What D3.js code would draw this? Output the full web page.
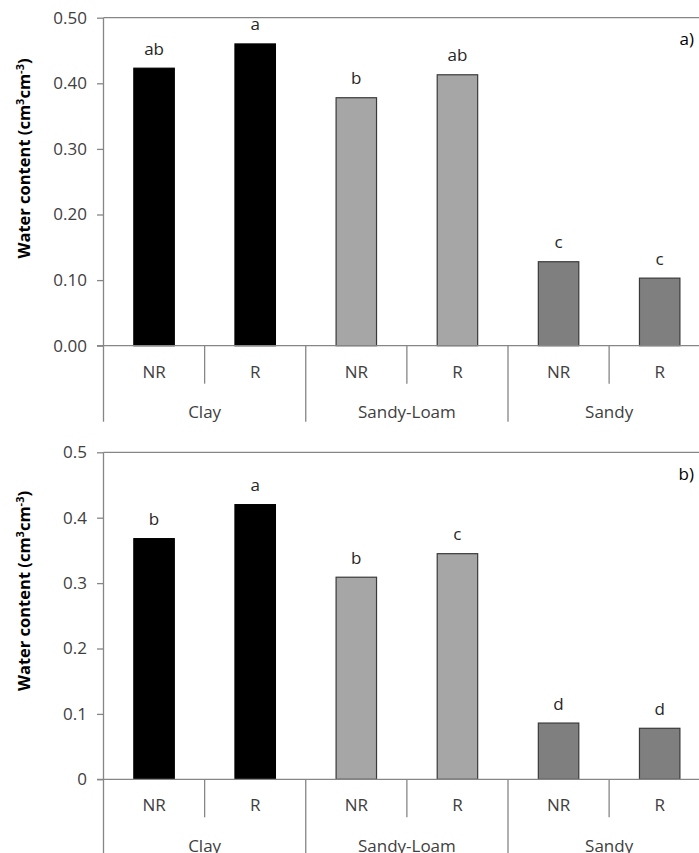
<!DOCTYPE html>
<html>
<head>
<meta charset="utf-8">
<script src="https://cdn.jsdelivr.net/npm/d3@7"></script>
<style>
  html, body { margin: 0; padding: 0; background: #fff; }
  svg { display: block; }
  text { font-family: "Open Sans", "DejaVu Sans", sans-serif; }
</style>
</head>
<body>
<svg id="chart" width="699" height="853"></svg>
<script>
// Soil textures and treatments (NR / R) along the x axis
const soils = ["Clay", "Sandy-Loam", "Sandy"];
const treatments = ["NR", "R"];
const soilColors = ["#000000", "#a6a6a6", "#7f7f7f"];

// Panel a) water content, cm3 cm-3
const valuesA = [0.423, 0.460, 0.378, 0.413, 0.128, 0.103];
const lettersA = ["ab", "a", "b", "ab", "c", "c"];
const ticksA = [0, 0.1, 0.2, 0.3, 0.4, 0.5];
const tickLabelsA = ["0.00", "0.10", "0.20", "0.30", "0.40", "0.50"];

// Panel b) water content, cm3 cm-3
const valuesB = [0.368, 0.420, 0.309, 0.345, 0.086, 0.078];
const lettersB = ["b", "a", "b", "c", "d", "d"];
const ticksB = [0, 0.1, 0.2, 0.3, 0.4, 0.5];
const tickLabelsB = ["0", "0.1", "0.2", "0.3", "0.4", "0.5"];

const svg = d3.select("#chart");
svg.append("rect").attr("width", 699).attr("height", 853).attr("fill", "#fff");

const left = 103.5, right = 710.25;
const keys = [];
soils.forEach((s, i) => treatments.forEach(t => keys.push({ soil: s, soilIndex: i, trt: t, key: s + "|" + t })));

const x = d3.scaleBand()
  .domain(keys.map(k => k.key))
  .range([left, right])
  .paddingInner(0.6)
  .paddingOuter(0.3);

const axisColor = "#868686";
const textColor = "#404040";

function panel(cfg) {
  const g = svg.append("g");
  const y = d3.scaleLinear().domain([0, 0.5]).range([cfg.y0, cfg.yTop]);

  // plot area frame (top and left edges; right edge lies beyond the canvas)
  g.append("line")
    .attr("x1", left).attr("x2", right)
    .attr("y1", y(0.5)).attr("y2", y(0.5))
    .attr("stroke", axisColor).attr("stroke-width", 1.3);

  // y axis with outer ticks
  const yAxis = d3.axisLeft(y)
    .tickValues(cfg.ticks)
    .tickFormat((d, i) => cfg.tickLabels[i])
    .tickSize(6.5)
    .tickPadding(10);
  const ya = g.append("g").attr("transform", `translate(${left},0)`).call(yAxis);
  ya.select(".domain").remove();
  ya.selectAll(".tick line").attr("stroke", axisColor).attr("stroke-width", 1.3);
  ya.selectAll(".tick text")
    .attr("fill", textColor)
    .style("font-family", "'Open Sans', sans-serif")
    .style("font-size", "17px");

  // bars
  g.selectAll("rect.bar")
    .data(keys.map((k, i) => ({ ...k, v: cfg.values[i], letter: cfg.letters[i] })))
    .join("rect")
    .attr("class", "bar")
    .attr("x", d => x(d.key))
    .attr("width", x.bandwidth())
    .attr("y", d => y(d.v))
    .attr("height", d => y(0) - y(d.v))
    .attr("fill", d => soilColors[d.soilIndex])
    .attr("stroke", d => d.soilIndex === 0 ? "#000" : "#3a3a3a")
    .attr("stroke-width", 1.2);

  // significance letters above bars
  g.selectAll("text.letter")
    .data(keys.map((k, i) => ({ ...k, v: cfg.values[i], letter: cfg.letters[i] })))
    .join("text")
    .attr("class", "letter")
    .attr("x", d => x(d.key) + x.bandwidth() / 2)
    .attr("y", d => y(d.v) - 13.5)
    .attr("text-anchor", "middle")
    .attr("fill", "#262626")
    .style("font-size", "17px")
    .text(d => d.letter);

  // x axis baseline
  g.append("line")
    .attr("x1", left - 6.5).attr("x2", right)
    .attr("y1", y(0)).attr("y2", y(0))
    .attr("stroke", axisColor).attr("stroke-width", 1.3);

  // left axis line continues down as the first group divider
  g.append("line")
    .attr("x1", left).attr("x2", left)
    .attr("y1", y(0.5)).attr("y2", y(0) + 76)
    .attr("stroke", axisColor).attr("stroke-width", 1.3);

  // treatment dividers (short) and soil dividers (long)
  const step = x.step();
  const start = x(keys[0].key) - x.paddingOuter() * step - step * (1 - x.bandwidth() / step) / 2 + (step - x.bandwidth()) / 2;
  keys.forEach((k, i) => {
    if (i === 0) return;
    const bx = x(k.key) - (step - x.bandwidth()) / 2;
    const isGroup = i % treatments.length === 0;
    g.append("line")
      .attr("x1", bx).attr("x2", bx)
      .attr("y1", y(0)).attr("y2", y(0) + (isGroup ? 76 : 38))
      .attr("stroke", axisColor).attr("stroke-width", 1.3);
  });
  const endX = x(keys[keys.length - 1].key) + x.bandwidth() + (step - x.bandwidth()) / 2;
  g.append("line")
    .attr("x1", endX).attr("x2", endX)
    .attr("y1", y(0)).attr("y2", y(0) + 76)
    .attr("stroke", axisColor).attr("stroke-width", 1.3);

  // treatment labels
  g.selectAll("text.trt")
    .data(keys)
    .join("text")
    .attr("class", "trt")
    .attr("x", d => x(d.key) + x.bandwidth() / 2)
    .attr("y", y(0) + 32)
    .attr("text-anchor", "middle")
    .attr("fill", textColor)
    .style("font-size", "17px")
    .text(d => d.trt);

  // soil labels
  soils.forEach((s, i) => {
    const k0 = keys[i * treatments.length].key;
    const k1 = keys[i * treatments.length + treatments.length - 1].key;
    const cx = (x(k0) + x(k1) + x.bandwidth()) / 2;
    g.append("text")
      .attr("x", cx)
      .attr("y", y(0) + 72.5)
      .attr("text-anchor", "middle")
      .attr("fill", textColor)
      .style("font-size", "17px")
      .text(s);
  });

  // y axis title
  const title = g.append("text")
    .attr("transform", `translate(30,${cfg.titleY}) rotate(-90)`)
    .attr("text-anchor", "middle")
    .attr("fill", "#000")
    .style("font-size", "16.5px")
    .style("font-weight", "700");
  title.append("tspan").text("Water content (cm");
  title.append("tspan").attr("dy", -6).style("font-size", "11px").text("3");
  title.append("tspan").attr("dy", 6).text("cm");
  title.append("tspan").attr("dy", -6).style("font-size", "11px").text("-3");
  title.append("tspan").attr("dy", 6).text(")");

  // panel tag
  g.append("text")
    .attr("x", 694)
    .attr("y", cfg.tagY)
    .attr("text-anchor", "end")
    .attr("fill", "#000")
    .style("font-size", "17px")
    .text(cfg.tag);
}

panel({ values: valuesA, letters: lettersA, ticks: ticksA, tickLabels: tickLabelsA,
        y0: 345.7, yTop: 17.7, titleY: 158.5, tag: "a)", tagY: 45 });
panel({ values: valuesB, letters: lettersB, ticks: ticksB, tickLabels: tickLabelsB,
        y0: 779.3, yTop: 452.3, titleY: 591, tag: "b)", tagY: 480 });
</script>
</body>
</html>
